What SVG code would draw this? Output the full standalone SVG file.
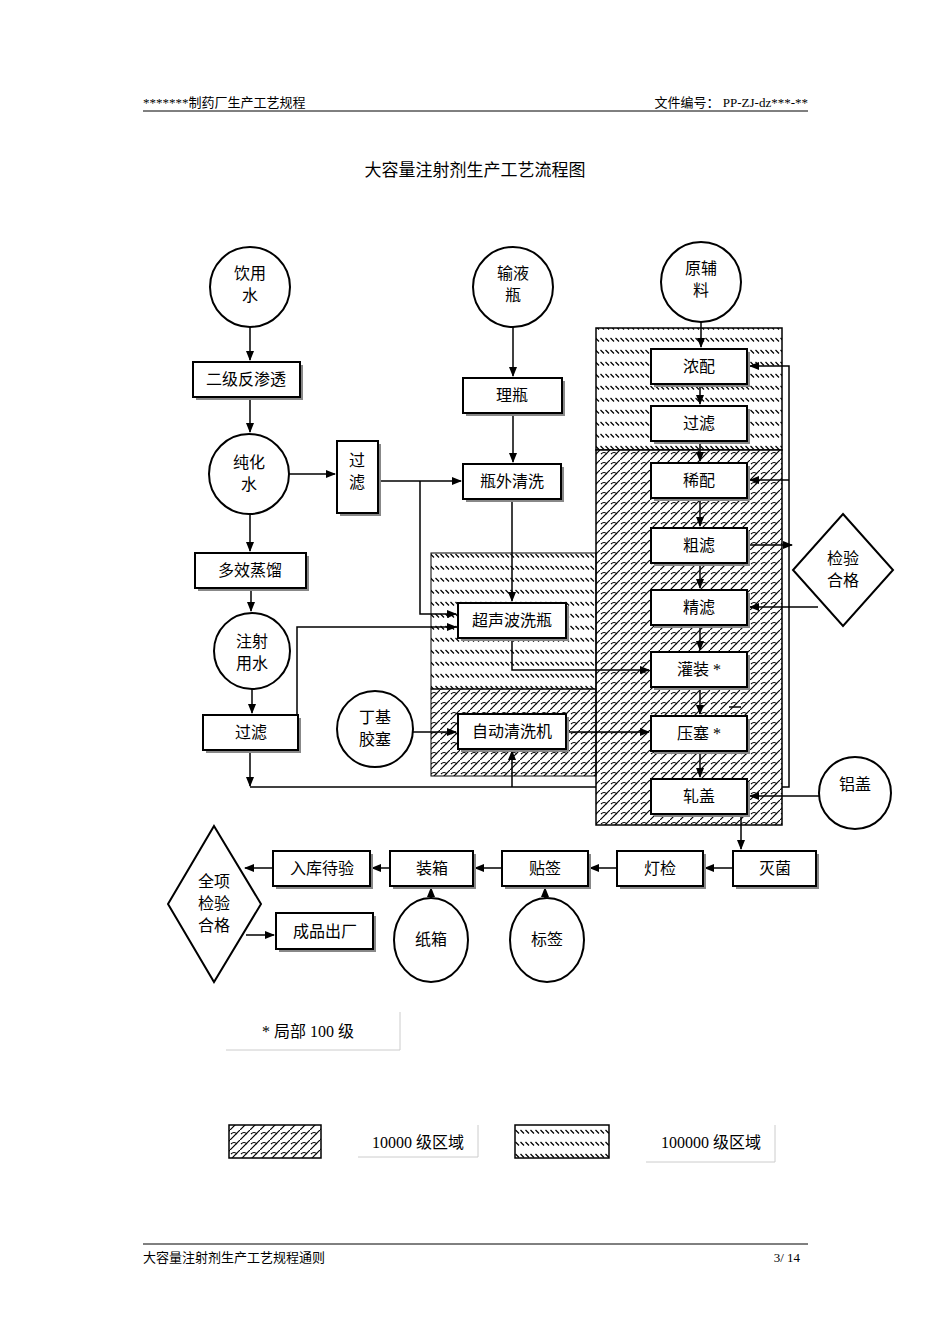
<svg xmlns="http://www.w3.org/2000/svg" width="950" height="1344" viewBox="0 0 950 1344">
<style>
text{font-family:"Liberation Serif","Noto Sans CJK SC",serif;fill:#000}
.t{font-size:16px;text-anchor:middle}
.b{fill:#fff;stroke:#000;stroke-width:2}
.s{fill:#888}
.c{fill:#fff;stroke:#000;stroke-width:2}
.l{fill:none;stroke:#000;stroke-width:1.5}
.g{fill:none;stroke:#ccc;stroke-width:1}
</style>
<defs>
<pattern id="p1" width="5" height="12" patternUnits="userSpaceOnUse"><path d="M0.5,2 L4,5.5" stroke="#000" stroke-width="1.2"/></pattern>
<pattern id="p2" width="10" height="10" patternUnits="userSpaceOnUse"><path d="M0,10 L10,0" stroke="#000" stroke-width="1.2"/><path d="M1,4 Q4,1 7,4" fill="none" stroke="#000" stroke-width="1.1"/></pattern>
<marker id="a" markerWidth="10" markerHeight="8" refX="9" refY="4" orient="auto" markerUnits="userSpaceOnUse"><path d="M0,0 L10,4 L0,8z" fill="#000"/></marker>
</defs>
<rect width="950" height="1344" fill="#fff"/>
<g id="header">
<text x="143" y="107" font-size="13">*******制药厂生产工艺规程</text>
<text x="808" y="107" font-size="13" text-anchor="end">文件编号：  PP-ZJ-dz***-**</text>
<line x1="143" y1="111" x2="808" y2="111" stroke="#000"/>
<text x="475" y="176" font-size="17" text-anchor="middle">大容量注射剂生产工艺流程图</text>
<line x1="143" y1="1244" x2="808" y2="1244" stroke="#000"/>
<text x="143" y="1262" font-size="13">大容量注射剂生产工艺规程通则</text>
<text x="800" y="1262" font-size="13" text-anchor="end">3/ 14</text>
</g>
<g id="regions">
<rect x="596" y="328" width="186" height="122" fill="#fff"/><rect x="596" y="328" width="186" height="122" fill="url(#p1)" stroke="#000" stroke-width="1.5"/>
<rect x="596" y="450" width="186" height="375" fill="#fff"/><rect x="596" y="450" width="186" height="375" fill="url(#p2)" stroke="#000" stroke-width="1.5"/>
<rect x="431" y="553" width="165" height="136" fill="url(#p1)" stroke="#000" stroke-width="1"/>
<rect x="431" y="689" width="165" height="87" fill="url(#p2)" stroke="#000" stroke-width="1"/>
</g>
<g id="connectors" class="l">
<path d="M250,327V360" marker-end="url(#a)"/>
<path d="M250,397V432" marker-end="url(#a)"/>
<path d="M289,474H335" marker-end="url(#a)"/>
<path d="M250,514V551" marker-end="url(#a)"/>
<path d="M251,588V611" marker-end="url(#a)"/>
<path d="M252,689V713" marker-end="url(#a)"/>
<path d="M250,750V786" marker-end="url(#a)"/>
<path d="M250,787H596"/>
<path d="M782,787H789V366H750" marker-end="url(#a)"/>
<path d="M789,480H750" marker-end="url(#a)"/>
<path d="M512,787V751" marker-end="url(#a)"/>
<path d="M297,715V627H456" marker-end="url(#a)"/>
<path d="M378,481H461" marker-end="url(#a)"/>
<path d="M420,481V614H456" marker-end="url(#a)"/>
<path d="M513,327V376" marker-end="url(#a)"/>
<path d="M513,413V462" marker-end="url(#a)"/>
<path d="M512,499V601" marker-end="url(#a)"/>
<path d="M512,638V670H649" marker-end="url(#a)"/>
<path d="M413,732H456" marker-end="url(#a)"/>
<path d="M566,732H649" marker-end="url(#a)"/>
<path d="M701,322V347" marker-end="url(#a)"/>
<path d="M700,384V404" marker-end="url(#a)"/>
<path d="M700,441V461" marker-end="url(#a)"/>
<path d="M700,498V526" marker-end="url(#a)"/>
<path d="M700,563V588" marker-end="url(#a)"/>
<path d="M700,625V650" marker-end="url(#a)"/>
<path d="M700,687V714" marker-end="url(#a)"/>
<path d="M700,751V777" marker-end="url(#a)"/>
<path d="M748,545H792" marker-end="url(#a)"/>
<path d="M818,607H750" marker-end="url(#a)"/>
<path d="M819,796H750" marker-end="url(#a)"/>
<path d="M741,814V849" marker-end="url(#a)"/>
<path d="M733,868H705" marker-end="url(#a)"/>
<path d="M617,868H590" marker-end="url(#a)"/>
<path d="M502,868H475" marker-end="url(#a)"/>
<path d="M390,868H372" marker-end="url(#a)"/>
<path d="M273,868H245" marker-end="url(#a)"/>
<path d="M246,935H274" marker-end="url(#a)"/>
<path d="M431,898V888" marker-end="url(#a)"/>
<path d="M545,898V888" marker-end="url(#a)"/>
<path d="M729,707H741"/>
</g>
<g id="n-yinyongshui"><circle class="c" cx="250" cy="287" r="40"/><text class="t" x="250" y="279">饮用</text><text class="t" x="250" y="301">水</text></g>
<g id="n-shuyeping"><circle class="c" cx="513" cy="287" r="40"/><text class="t" x="513" y="279">输液</text><text class="t" x="513" y="301">瓶</text></g>
<g id="n-yuanfuliao"><circle class="c" cx="701" cy="282" r="40"/><text class="t" x="701" y="274">原辅</text><text class="t" x="701" y="296">料</text></g>
<g id="n-chunhuashui"><circle class="c" cx="249" cy="474" r="40"/><text class="t" x="249" y="468">纯化</text><text class="t" x="249" y="490">水</text></g>
<g id="n-zhusheyongshui"><circle class="c" cx="252" cy="651" r="38"/><text class="t" x="252" y="647">注射</text><text class="t" x="252" y="669">用水</text></g>
<g id="n-dingji"><circle class="c" cx="375" cy="729" r="38"/><text class="t" x="375" y="723">丁基</text><text class="t" x="375" y="745">胶塞</text></g>
<g id="n-lvgai"><circle class="c" cx="855" cy="793" r="36"/><text class="t" x="855" y="790">铝盖</text></g>
<g id="n-zhixiang"><ellipse class="c" cx="431" cy="940" rx="37" ry="42"/><text class="t" x="431" y="945">纸箱</text></g>
<g id="n-biaoqian"><ellipse class="c" cx="547" cy="940" rx="37" ry="42"/><text class="t" x="547" y="945">标签</text></g>
<g id="n-erji"><rect class="s" x="196" y="365" width="107" height="35"/><rect class="b" x="193" y="362" width="107" height="35"/><text class="t" x="246" y="385">二级反渗透</text></g>
<g id="n-liping"><rect class="s" x="466" y="381" width="99" height="35"/><rect class="b" x="463" y="378" width="99" height="35"/><text class="t" x="512" y="401">理瓶</text></g>
<g id="n-guolv1"><rect class="s" x="340" y="444" width="41" height="72"/><rect class="b" x="337" y="441" width="41" height="72"/><text class="t" x="357" y="466">过</text><text class="t" x="357" y="488">滤</text></g>
<g id="n-pingwai"><rect class="s" x="466" y="467" width="98" height="35"/><rect class="b" x="463" y="464" width="98" height="35"/><text class="t" x="512" y="487">瓶外清洗</text></g>
<g id="n-duoxiao"><rect class="s" x="198" y="556" width="111" height="35"/><rect class="b" x="195" y="553" width="111" height="35"/><text class="t" x="250" y="576">多效蒸馏</text></g>
<g id="n-chaosheng"><rect class="s" x="461" y="606" width="108" height="35"/><rect class="b" x="458" y="603" width="108" height="35"/><text class="t" x="512" y="626">超声波洗瓶</text></g>
<g id="n-guolv2"><rect class="s" x="206" y="718" width="95" height="35"/><rect class="b" x="203" y="715" width="95" height="35"/><text class="t" x="251" y="738">过滤</text></g>
<g id="n-zidong"><rect class="s" x="461" y="717" width="108" height="35"/><rect class="b" x="458" y="714" width="108" height="35"/><text class="t" x="512" y="737">自动清洗机</text></g>
<g id="n-nongpei"><rect class="s" x="654" y="352" width="96" height="35"/><rect class="b" x="651" y="349" width="96" height="35"/><text class="t" x="699" y="372">浓配</text></g>
<g id="n-guolv3"><rect class="s" x="654" y="409" width="96" height="35"/><rect class="b" x="651" y="406" width="96" height="35"/><text class="t" x="699" y="429">过滤</text></g>
<g id="n-xipei"><rect class="s" x="654" y="466" width="96" height="35"/><rect class="b" x="651" y="463" width="96" height="35"/><text class="t" x="699" y="486">稀配</text></g>
<g id="n-culv"><rect class="s" x="654" y="531" width="96" height="35"/><rect class="b" x="651" y="528" width="96" height="35"/><text class="t" x="699" y="551">粗滤</text></g>
<g id="n-jinglv"><rect class="s" x="654" y="593" width="96" height="35"/><rect class="b" x="651" y="590" width="96" height="35"/><text class="t" x="699" y="613">精滤</text></g>
<g id="n-guanzhuang"><rect class="s" x="654" y="655" width="96" height="35"/><rect class="b" x="651" y="652" width="96" height="35"/><text class="t" x="699" y="675">灌装  *</text></g>
<g id="n-yasai"><rect class="s" x="654" y="719" width="96" height="35"/><rect class="b" x="651" y="716" width="96" height="35"/><text class="t" x="699" y="739">压塞  *</text></g>
<g id="n-zhagai"><rect class="s" x="654" y="782" width="96" height="35"/><rect class="b" x="651" y="779" width="96" height="35"/><text class="t" x="699" y="802">轧盖</text></g>
<g id="n-jianyan"><polygon points="843,514 893,570 843,626 793,570" fill="#fff" stroke="#000" stroke-width="2"/><text class="t" x="843" y="564">检验</text><text class="t" x="843" y="586">合格</text></g>
<g id="n-quanxiang"><polygon points="214,826 261,904 214,982 168,904" fill="#fff" stroke="#000" stroke-width="2"/><text class="t" x="214" y="887">全项</text><text class="t" x="214" y="909">检验</text><text class="t" x="214" y="931">合格</text></g>
<g id="n-ruku"><rect class="s" x="276" y="854" width="97" height="35"/><rect class="b" x="273" y="851" width="97" height="35"/><text class="t" x="322" y="874">入库待验</text></g>
<g id="n-zhuangxiang"><rect class="s" x="393" y="854" width="83" height="35"/><rect class="b" x="390" y="851" width="83" height="35"/><text class="t" x="432" y="874">装箱</text></g>
<g id="n-tieqian"><rect class="s" x="505" y="854" width="86" height="35"/><rect class="b" x="502" y="851" width="86" height="35"/><text class="t" x="545" y="874">贴签</text></g>
<g id="n-dengjian"><rect class="s" x="620" y="854" width="86" height="35"/><rect class="b" x="617" y="851" width="86" height="35"/><text class="t" x="660" y="874">灯检</text></g>
<g id="n-mijun"><rect class="s" x="736" y="854" width="83" height="35"/><rect class="b" x="733" y="851" width="83" height="35"/><text class="t" x="775" y="874">灭菌</text></g>
<g id="n-chengpin"><rect class="s" x="279" y="916" width="97" height="36"/><rect class="b" x="276" y="913" width="97" height="36"/><text class="t" x="325" y="937">成品出厂</text></g>
<g id="legend">
<path class="g" d="M400,1012V1050H226"/>
<text x="262" y="1037" font-size="16">*  局部 100 级</text>
<rect x="229" y="1125" width="92" height="33" fill="url(#p2)" stroke="#000" stroke-width="1.5"/>
<path class="g" d="M478,1125V1157H358"/>
<text x="418" y="1148" font-size="16" text-anchor="middle">10000 级区域</text>
<rect x="515" y="1125" width="94" height="33" fill="url(#p1)" stroke="#000" stroke-width="1.5"/>
<path class="g" d="M775,1125V1162H646"/>
<text x="711" y="1148" font-size="16" text-anchor="middle">100000 级区域</text>
</g>
</svg>
